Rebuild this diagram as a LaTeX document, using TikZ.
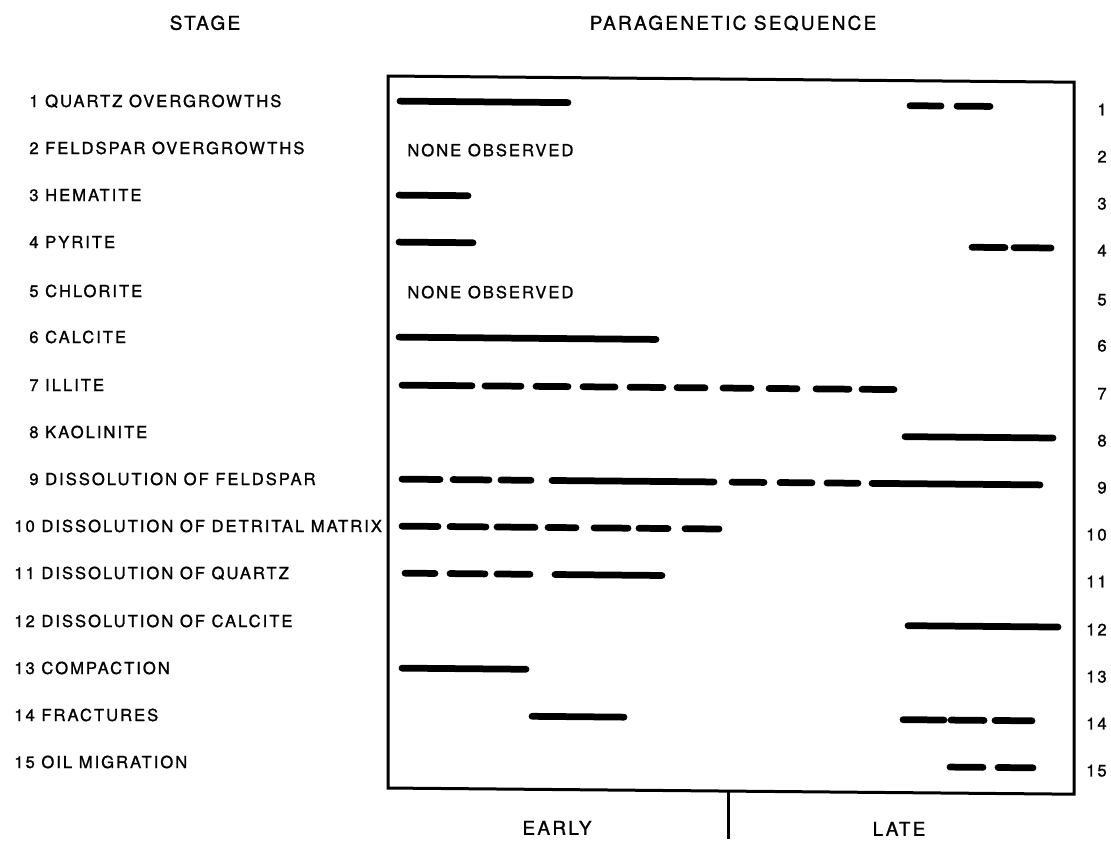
\documentclass[tikz,border=0pt]{standalone}
\usepackage{fontspec}
\setmainfont{TeX Gyre Heros}[LetterSpace=12,FakeBold=1.2]
\tikzset{
  bar/.style={line width=0.135cm, line cap=round},
  frame/.style={line width=0.06cm},
  lbl/.style={font=\fontsize{9.45}{11}\selectfont, inner sep=0pt, text height=0.24cm, text depth=0pt, anchor=west},
  num/.style={font=\fontsize{9.45}{11}\selectfont, inner sep=0pt, text height=0.24cm, text depth=0pt, anchor=east},
  head/.style={font=\fontsize{10.8}{13}\selectfont, inner sep=0pt, text height=0.27cm, text depth=0pt}
}

\begin{document}
\begin{tikzpicture}[x=0.02cm,y=-0.02cm]
\useasboundingbox (0,0) rectangle (1111,840);
\node[head] (stage) at (205,23) {STAGE};
\node[head] (seq) at (733,23) {PARAGENETIC SEQUENCE};
% stage names
\node[lbl] (l1) at (29,101) {1 QUARTZ OVERGROWTHS};
\node[lbl] (l2) at (29,148) {2 FELDSPAR OVERGROWTHS};
\node[lbl] (l3) at (29,195) {3 HEMATITE};
\node[lbl] (l4) at (29,242) {4 PYRITE};
\node[lbl] (l5) at (29,291) {5 CHLORITE};
\node[lbl] (l6) at (29,337) {6 CALCITE};
\node[lbl] (l7) at (29,385) {7 ILLITE};
\node[lbl] (l8) at (29,432) {8 KAOLINITE};
\node[lbl] (l9) at (29,479) {9 DISSOLUTION OF FELDSPAR};
\node[lbl] (l10) at (14,526) {10 DISSOLUTION OF DETRITAL MATRIX};
\node[lbl] (l11) at (14,573) {11 DISSOLUTION OF QUARTZ};
\node[lbl] (l12) at (14,621) {12 DISSOLUTION OF CALCITE};
\node[lbl] (l13) at (14,668) {13 COMPACTION};
\node[lbl] (l14) at (14,715) {14 FRACTURES};
\node[lbl] (l15) at (14,762) {15 OIL MIGRATION};
\begin{scope}[shift={(388,0)},yslant=-0.009,shift={(-388,0)}]
\draw[frame] (388,76) rectangle (1074,788);
\draw[frame] (728,788) -- (728,836);
\node[lbl] (none2) at (407,150) {NONE OBSERVED};
\node[lbl] (none5) at (407,292) {NONE OBSERVED};
% bars
\draw[bar] (400,101) -- (568,101) (910,101) -- (941,101) (957,101) -- (990,101);
\draw[bar] (399,195) -- (468,195);
\draw[bar] (399,242) -- (473,242) (972,242) -- (1005,242) (1014,242) -- (1051,242);
\draw[bar] (399,337) -- (656,337);
\draw[bar] (402,385) -- (472,385) (485,385) -- (521,385) (536,385) -- (568,385)
  (583,385) -- (615,385) (630,385) -- (663,385) (677,385) -- (705,385)
  (723,385) -- (751,385) (769,385) -- (797,385) (816,385) -- (849,385) (862,385) -- (894,385);
\draw[bar] (905,432) -- (1053,432);
\draw[bar] (402,479) -- (440,479) (453,479) -- (489,479) (501,479) -- (531,479)
  (552,479) -- (714,479) (732,479) -- (764,479) (780,479) -- (812,479)
  (827,479) -- (858,479) (872,479) -- (1040,479);
\draw[bar] (402,526) -- (438,526) (450,526) -- (486,526) (497,526) -- (535,526)
  (548,526) -- (576,526) (594,526) -- (628,526) (639,526) -- (668,526) (685,526) -- (719,526);
\draw[bar] (405,573) -- (435,573) (450,573) -- (485,573) (497,573) -- (530,573) (555,573) -- (662,573);
\draw[bar] (908,621) -- (1058,621);
\draw[bar] (402,668) -- (526,668);
\draw[bar] (532,715) -- (624,715) (903,715) -- (944,715) (951,715) -- (984,715) (995,715) -- (1032,715);
\draw[bar] (950,762) -- (983,762) (998,762) -- (1033,762);
% row numbers
\node[num] (n1) at (1107,103) {1};
\node[num] (n2) at (1107,150) {2};
\node[num] (n3) at (1107,197) {3};
\node[num] (n4) at (1107,244) {4};
\node[num] (n5) at (1107,293) {5};
\node[num] (n6) at (1107,339) {6};
\node[num] (n7) at (1107,387) {7};
\node[num] (n8) at (1107,434) {8};
\node[num] (n9) at (1107,481) {9};
\node[num] (n10) at (1107,528) {10};
\node[num] (n11) at (1107,575) {11};
\node[num] (n12) at (1107,623) {12};
\node[num] (n13) at (1107,670) {13};
\node[num] (n14) at (1107,717) {14};
\node[num] (n15) at (1107,764) {15};
\end{scope}
\node[head] (early) at (557,828) {EARLY};
\node[head] (late) at (899,829) {LATE};
\end{tikzpicture}
\end{document}
